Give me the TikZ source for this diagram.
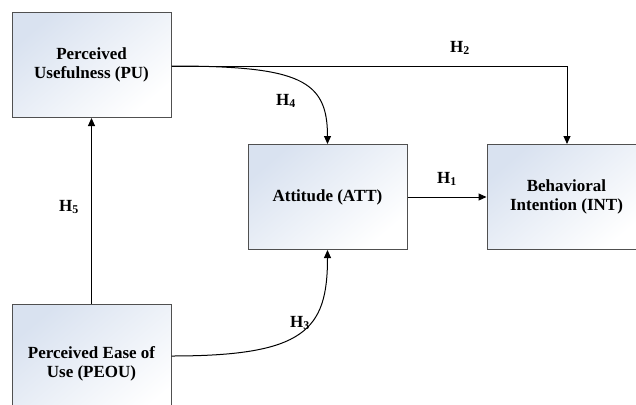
\documentclass[tikz,border=0pt]{standalone}
\usepackage{fontspec}
\setmainfont{Liberation Serif}
\usetikzlibrary{arrows.meta}
\definecolor{boxline}{HTML}{505050}
\definecolor{boxtint}{HTML}{D9E2F0}
\tikzset{
  construct/.style={draw=boxline, line width=1pt, top color=boxtint, bottom color=white,
    shading angle=40, minimum width=159pt, minimum height=105pt, inner sep=0pt,
    align=center, font=\fontsize{17}{19.5}\selectfont\bfseries},
  path/.style={line width=1pt, -{Triangle[length=8pt,width=7pt]}},
  hyp/.style={font=\fontsize{17}{19}\selectfont\bfseries}
}
\newcommand{\hy}[1]{H\textsubscript{#1}}
\begin{document}
\begin{tikzpicture}[x=1pt,y=-1pt]
\useasboundingbox (0,0) rectangle (636,404);
\clip (0,0) rectangle (636,404);
% constructs (the last two run past the edge of the page)
\node[construct] (pu) at (91.5,65) {Perceived\\Usefulness (PU)};
\node[construct] (att) at (327.5,197) {Attitude (ATT)};
\node[construct] (int) at (566.5,197) {Behavioral\\Intention (INT)};
\node[construct, minimum height=120pt] (peou) at (91.5,364) {Perceived Ease of\\Use (PEOU)};
% anchor points on the box edges
\coordinate (puR) at (pu.east |- 0,66);
\coordinate (peouR) at (peou.east |- 0,356);
\coordinate (bend) at (567,66);
% paths
\draw[path] (peou.north) -- (pu.south);
\draw[path] (att.east) -- (int.west);
\draw[path] (puR) -- (bend) -- (bend |- int.north);
\draw[path] (puR) .. controls (300,66) and (327.5,80) .. (att.north);
\draw[path] (peouR) .. controls (305,356) and (327.5,330) .. (att.south);
% hypothesis labels
\node[hyp] (h1) at (447,179) {\hy{1}};
\node[hyp] (h2) at (460,48) {\hy{2}};
\node[hyp] (h3) at (300,323) {\hy{3}};
\node[hyp] (h4) at (286,101) {\hy{4}};
\node[hyp] (h5) at (69,207) {\hy{5}};
\end{tikzpicture}
\end{document}
